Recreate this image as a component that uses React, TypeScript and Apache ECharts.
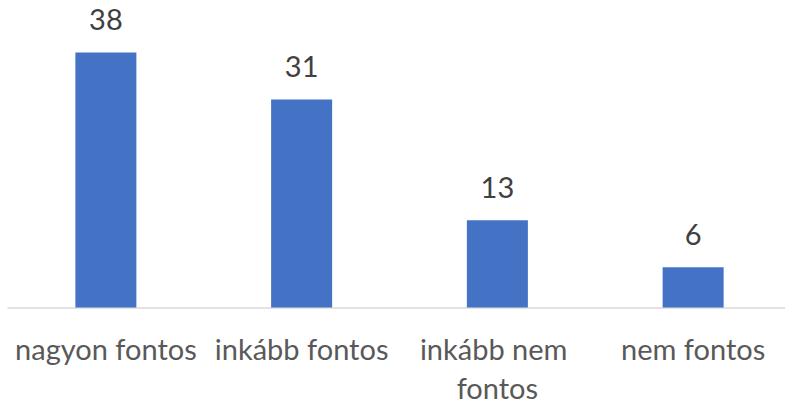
import React, { useEffect, useRef } from "react";
import * as echarts from "echarts";

const categories = ["nagyon fontos", "inkább fontos", "inkább nem fontos", "nem fontos"];
const values = [38, 31, 13, 6];

export default function App() {
  const ref = useRef<HTMLDivElement>(null);
  useEffect(() => {
    document.body.style.margin = "0";
    const chart = echarts.init(ref.current!, null, { renderer: "svg" });
    chart.setOption({
      animation: false,
      backgroundColor: "#ffffff",
      grid: {
        left: 8,
        top: 39,
        width: 783,
        height: 268.5,
        containLabel: false,
        outerBoundsMode: "none",
      },
      xAxis: {
        type: "category",
        data: categories,
        axisLine: { lineStyle: { color: "#d9d9d9", width: 1.5 } },
        axisTick: { show: false },
        axisLabel: {
          interval: 0,
          color: "#595959",
          fontFamily: "Lato",
          fontSize: 29,
          lineHeight: 39,
          margin: 21,
          width: 192,
          overflow: "break",
        },
      },
      yAxis: {
        type: "value",
        min: 0,
        max: 40,
        show: false,
        splitLine: { show: false },
      },
      series: [
        {
          type: "bar",
          data: values,
          barWidth: 61,
          itemStyle: { color: "#4472C4" },
          label: {
            show: true,
            position: "top",
            distance: 19,
            color: "#404040",
            fontFamily: "Lato",
            fontSize: 29,
          },
        },
      ],
    });
    return () => chart.dispose();
  }, []);
  return <div ref={ref} style={{ width: 785, height: 403 }} />;
}
